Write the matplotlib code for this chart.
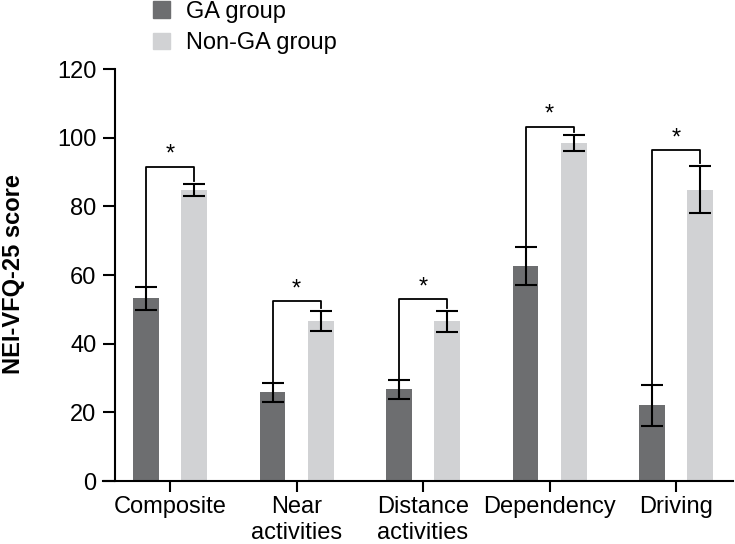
import numpy as np
import matplotlib
matplotlib.use('Agg')
import matplotlib.pyplot as plt
from matplotlib.patches import Patch

# values
categories =['Composite', 'Near\nactivities', 'Distance\nactivities', 'Dependency', 'Driving']
ga_mean =[53.2, 25.8, 26.7, 62.6, 22.0]
ga_err =[3.3, 2.7, 2.8, 5.6, 6.0]
nonga_mean =[84.8, 46.6, 46.5, 98.4, 84.9]
nonga_err =[1.8, 3.0, 3.0, 2.4, 6.8]
bracket_y =[91.6, 52.4, 52.9, 103.2, 96.3]
signif =['*', '*', '*', '*', '*']

GA_COLOR ='#6d6e70'
NONGA_COLOR ='#d1d2d4'
OFFSET =0.19
WIDTH =0.205

plt.rcParams['font.family'] =['Liberation Sans', 'DejaVu Sans']
plt.rcParams['font.size'] =17

fig =plt.figure(figsize=(7.35, 5.44), dpi=100)
ax =fig.add_axes([103/735, 63/544, 630/735, 412/544])

x =np.arange(len(categories))
ax.bar(x -OFFSET, ga_mean, WIDTH, color=GA_COLOR, label='GA group', zorder=2)
ax.bar(x +OFFSET, nonga_mean, WIDTH, color=NONGA_COLOR, label='Non-GA group', zorder=2)
ax.errorbar(x -OFFSET, ga_mean, yerr=ga_err, fmt='none', ecolor='black',
            elinewidth=1.5, capsize=8, capthick=1.5, zorder=3)
ax.errorbar(x +OFFSET, nonga_mean, yerr=nonga_err, fmt='none', ecolor='black',
            elinewidth=1.5, capsize=8, capthick=1.5, zorder=3)

# significance brackets
for i in range(len(categories)):
    left_bottom =ga_mean[i] +ga_err[i]
    right_bottom =nonga_mean[i] +nonga_err[i] +0.9
    by =bracket_y[i]
    ax.plot([x[i] -OFFSET, x[i] -OFFSET, x[i] +OFFSET, x[i] +OFFSET],
            [left_bottom, by, by, right_bottom], color='black', lw=1.3, zorder=3)
    ax.text(x[i], by +0.2, signif[i], ha='center', va='bottom', fontsize=17)

ax.set_xlim(-0.53, 4.45)
ax.set_ylim(0, 120)
ax.set_yticks([0, 20, 40, 60, 80, 100, 120])
ax.set_xticks(x)
ax.set_xticklabels(categories)
ax.spines['top'].set_visible(False)
ax.spines['right'].set_visible(False)
ax.spines['left'].set_position(('data', -0.435))
ax.spines['left'].set_linewidth(1.5)
ax.spines['bottom'].set_linewidth(1.5)
ax.tick_params(axis='both', direction='out', width=1.5, colors='black')
ax.tick_params(axis='y', length=8.5, pad=5)
ax.tick_params(axis='x', length=8, pad=3)
ax.set_ylabel('NEI-VFQ-25 score', fontsize=17, fontweight='bold')
ax.yaxis.set_label_coords(-0.124, 0.502)

handles =[Patch(color=GA_COLOR), Patch(color=NONGA_COLOR)]
ax.legend(handles, ['GA group', 'Non-GA group'], loc='upper left',
          bbox_to_anchor=(153/735, 1.0 -1/544), bbox_transform=fig.transFigure,
          frameon=False, handlelength=0.7, handleheight=0.7, handletextpad=0.7,
          labelspacing=0.4, borderaxespad=0, borderpad=0)

fig.savefig('out.png', dpi=100)
